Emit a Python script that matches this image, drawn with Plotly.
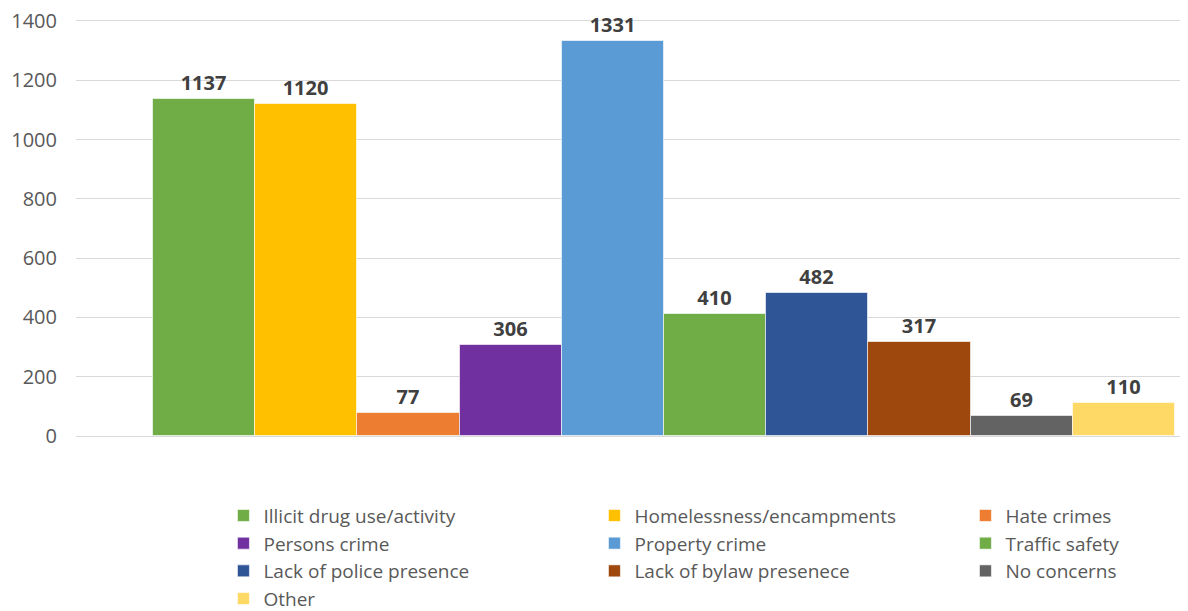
import plotly.graph_objects as go

categories = ["Illicit drug use/activity", "Homelessness/encampments", "Hate crimes",
              "Persons crime", "Property crime", "Traffic safety",
              "Lack of police presence", "Lack of bylaw presenece", "No concerns", "Other"]
values = [1137, 1120, 77, 306, 1331, 410, 482, 317, 69, 110]
colors = ["#70AD47", "#FFC000", "#ED7D31", "#7030A0", "#5B9BD5", "#70AD47",
          "#2F5597", "#9E480E", "#636363", "#FFD966"]
y_ticks = [0, 200, 400, 600, 800, 1000, 1200, 1400]

FONT = "Open Sans"

fig = go.Figure()
for name, v, c in zip(categories, values, colors):
    fig.add_trace(go.Bar(
        x=[""], y=[v], name=name,
        marker=dict(color=c, line=dict(color="rgba(255,255,255,0.6)", width=1)),
        text=[str(v)], textposition="outside", cliponaxis=False,
        textfont=dict(family=FONT, size=20, color="#404040", weight="bold"),
    ))

fig.update_layout(
    width=1180, height=603,
    margin=dict(l=68, r=0, t=10, b=175, autoexpand=False),
    barmode="group", bargap=0, bargroupgap=0,
    plot_bgcolor="white", paper_bgcolor="white",
    font=dict(family=FONT, size=19, color="#595959"),
    xaxis=dict(range=[-0.5753, 0.5127], showticklabels=False, showgrid=False,
               zeroline=False, showline=False, fixedrange=True),
    yaxis=dict(range=[0, 1410], tickvals=y_ticks, showgrid=True, gridcolor="#D9D9D9",
               gridwidth=1, zeroline=True, zerolinecolor="#D9D9D9", zerolinewidth=1,
               tickfont=dict(family=FONT, size=20, color="#595959"),
               ticklabelstandoff=18, ticklabeloverflow="allow"),
    legend=dict(orientation="h", x=0.1326, xanchor="left", y=-0.145, yanchor="top",
                entrywidth=326, entrywidthmode="pixels",
                font=dict(family=FONT, size=19, color="#595959"),
                itemwidth=30, traceorder="normal"),
    showlegend=True,
)

fig.write_html("out.html")
